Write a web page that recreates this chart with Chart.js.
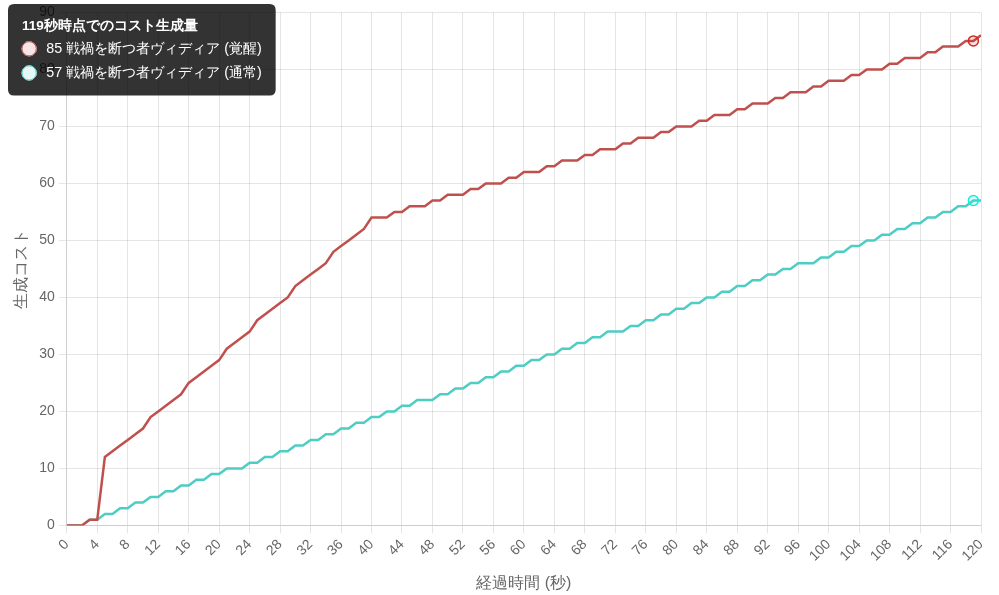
<!DOCTYPE html>
<html>
<head>
<meta charset="utf-8">
<script src="https://cdn.jsdelivr.net/npm/chart.js@4.4.1/dist/chart.umd.min.js"></script>
<style>
  html, body { margin: 0; padding: 0; background: #fff; }
  #wrap { width: 999px; height: 595px; }
</style>
</head>
<body>
<div id="wrap"><canvas id="costChart" width="999" height="595"></canvas></div>
<script>
// 経過時間 (秒)
const seconds = [
  0, 1, 2, 3, 4, 5, 6, 7, 8, 9,
  10, 11, 12, 13, 14, 15, 16, 17, 18, 19,
  20, 21, 22, 23, 24, 25, 26, 27, 28, 29,
  30, 31, 32, 33, 34, 35, 36, 37, 38, 39,
  40, 41, 42, 43, 44, 45, 46, 47, 48, 49,
  50, 51, 52, 53, 54, 55, 56, 57, 58, 59,
  60, 61, 62, 63, 64, 65, 66, 67, 68, 69,
  70, 71, 72, 73, 74, 75, 76, 77, 78, 79,
  80, 81, 82, 83, 84, 85, 86, 87, 88, 89,
  90, 91, 92, 93, 94, 95, 96, 97, 98, 99,
  100, 101, 102, 103, 104, 105, 106, 107, 108, 109,
  110, 111, 112, 113, 114, 115, 116, 117, 118, 119,
  120
];

// 戦禍を断つ者ヴィディア (覚醒)
const awakenedCost = [
  0, 0, 0, 1, 1, 12, 13, 14, 15, 16,
  17, 19, 20, 21, 22, 23, 25, 26, 27, 28,
  29, 31, 32, 33, 34, 36, 37, 38, 39, 40,
  42, 43, 44, 45, 46, 48, 49, 50, 51, 52,
  54, 54, 54, 55, 55, 56, 56, 56, 57, 57,
  58, 58, 58, 59, 59, 60, 60, 60, 61, 61,
  62, 62, 62, 63, 63, 64, 64, 64, 65, 65,
  66, 66, 66, 67, 67, 68, 68, 68, 69, 69,
  70, 70, 70, 71, 71, 72, 72, 72, 73, 73,
  74, 74, 74, 75, 75, 76, 76, 76, 77, 77,
  78, 78, 78, 79, 79, 80, 80, 80, 81, 81,
  82, 82, 82, 83, 83, 84, 84, 84, 85, 85,
  86
];

// 戦禍を断つ者ヴィディア (通常)
const normalCost = [
  0, 0, 0, 1, 1, 2, 2, 3, 3, 4,
  4, 5, 5, 6, 6, 7, 7, 8, 8, 9,
  9, 10, 10, 10, 11, 11, 12, 12, 13, 13,
  14, 14, 15, 15, 16, 16, 17, 17, 18, 18,
  19, 19, 20, 20, 21, 21, 22, 22, 22, 23,
  23, 24, 24, 25, 25, 26, 26, 27, 27, 28,
  28, 29, 29, 30, 30, 31, 31, 32, 32, 33,
  33, 34, 34, 34, 35, 35, 36, 36, 37, 37,
  38, 38, 39, 39, 40, 40, 41, 41, 42, 42,
  43, 43, 44, 44, 45, 45, 46, 46, 46, 47,
  47, 48, 48, 49, 49, 50, 50, 51, 51, 52,
  52, 53, 53, 54, 54, 55, 55, 56, 56, 57,
  57
];

const seriesNames = ['戦禍を断つ者ヴィディア (覚醒)', '戦禍を断つ者ヴィディア (通常)'];
const tooltipSecond = 119;

const RED = 'rgb(192, 80, 77)';
const TEAL = 'rgb(78, 205, 196)';

Chart.Tooltip.positioners.corner = function () {
  return { x: 14, y: 4 };
};

const ctx = document.getElementById('costChart').getContext('2d');
const costChart = new Chart(ctx, {
  type: 'line',
  data: {
    labels: seconds,
    datasets: [{
      label: seriesNames[0],
      data: awakenedCost,
      borderColor: RED,
      backgroundColor: 'rgba(192, 80, 77, 0.15)',
      borderWidth: 2.5,
      pointRadius: 0,
      pointHoverRadius: 5,
      pointHoverBorderWidth: 1.5,
      tension: 0,
      fill: false
    }, {
      label: seriesNames[1],
      data: normalCost,
      borderColor: TEAL,
      backgroundColor: 'rgba(78, 205, 196, 0.15)',
      borderWidth: 2.5,
      pointRadius: 0,
      pointHoverRadius: 5,
      pointHoverBorderWidth: 1.5,
      tension: 0,
      fill: false
    }]
  },
  options: {
    responsive: false,
    animation: false,
    interaction: { mode: 'index', intersect: false },
    layout: { padding: { right: 18, top: 2, left: 8, bottom: 0 } },
    scales: {
      x: {
        type: 'linear',
        min: 0,
        max: 120,
        ticks: {
          stepSize: 4,
          minRotation: 45,
          maxRotation: 45,
          color: '#666',
          font: { size: 14 }
        },
        title: {
          display: true,
          text: '経過時間 (秒)',
          color: '#666',
          font: { size: 16 },
          padding: { top: 6, bottom: 2 }
        }
      },
      y: {
        min: 0,
        max: 90,
        ticks: { stepSize: 10, color: '#666', font: { size: 14 }, padding: 4 },
        title: {
          display: true,
          text: '生成コスト',
          color: '#666',
          font: { size: 16 }
        }
      }
    },
    plugins: {
      legend: { display: false },
      tooltip: {
        position: 'corner',
        xAlign: 'left',
        yAlign: 'top',
        caretSize: 0,
        caretPadding: 0,
        padding: 14,
        cornerRadius: 6,
        backgroundColor: 'rgba(0, 0, 0, 0.8)',
        titleFont: { size: 13.5, weight: 'bold' },
        bodyFont: { size: 14.3 },
        titleMarginBottom: 6,
        bodySpacing: 7,
        boxPadding: 8,
        usePointStyle: true,
        callbacks: {
          title: items => items[0].parsed.x + '秒時点でのコスト生成量',
          label: item => item.parsed.y + ' ' + item.dataset.label
        }
      }
    }
  }
});

const active = [
  { datasetIndex: 0, index: seconds.indexOf(tooltipSecond) },
  { datasetIndex: 1, index: seconds.indexOf(tooltipSecond) }
];
costChart.setActiveElements(active);
costChart.tooltip.setActiveElements(active, { x: 0, y: 0 });
costChart.update();
</script>
</body>
</html>
